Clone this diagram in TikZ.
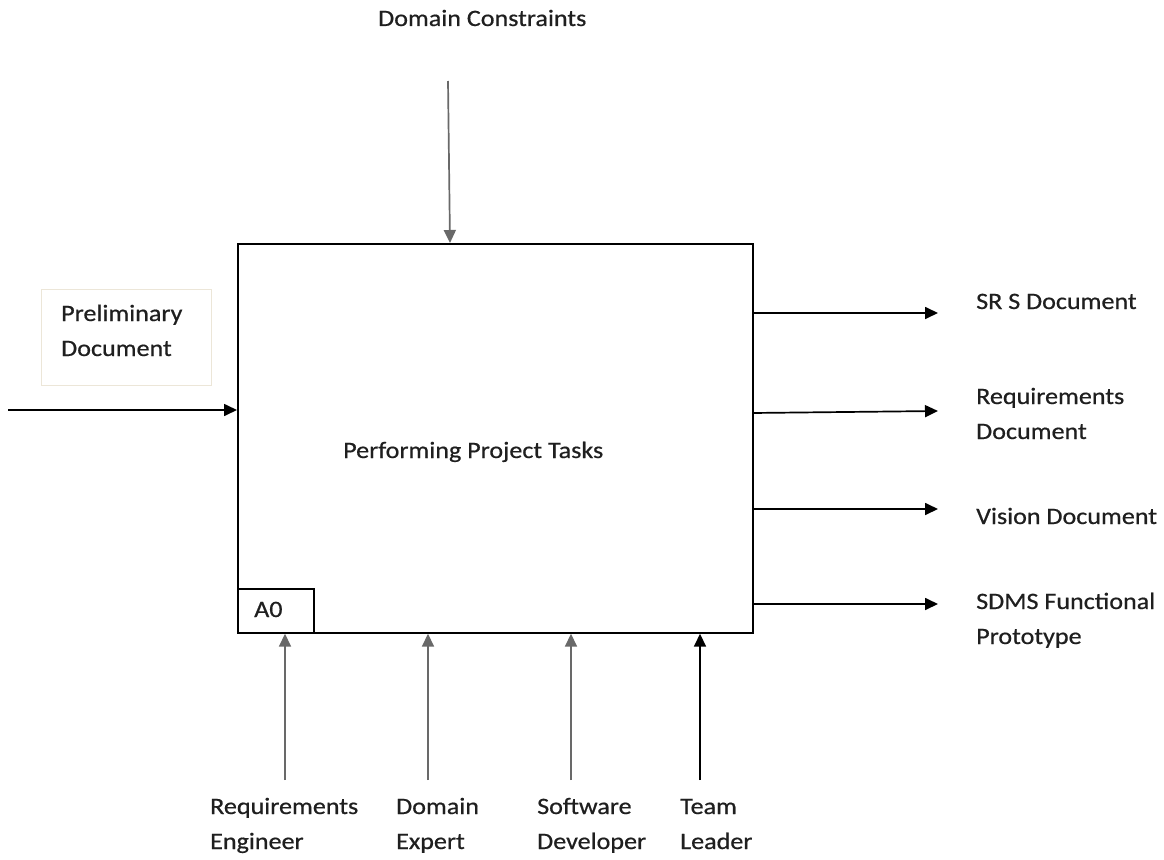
\documentclass[tikz,border=0pt]{standalone}
\usepackage{fontspec}
\setmainfont{Carlito}[FakeStretch=1.11,FakeBold=0.6]
\usetikzlibrary{arrows.meta}
\definecolor{linegray}{RGB}{105,105,105}
\definecolor{notebox}{RGB}{236,230,216}
\begin{document}
\begin{tikzpicture}[x=1pt,y=-1pt,
  lbl/.style={font=\fontsize{23.5}{35}\selectfont, text=black!88, inner sep=0pt, anchor=base west},
  flow/.style={line width=1.7pt, -{Triangle[length=13pt,width=12pt]}},
  grayflow/.style={flow, draw=linegray}]
\useasboundingbox (0,0) rectangle (1164,859);
\fill[white] (0,0) rectangle (1164,859);

% activity box
\node[draw, line width=1.7pt, minimum width=515pt, minimum height=389pt, inner sep=0pt, anchor=north west] (act) at (237,243) {};
\node[lbl] (title) at (343,458) {Performing Project Tasks};
\node[draw, line width=1.7pt, minimum width=76pt, minimum height=44pt, inner sep=0pt, anchor=south west] (num) at (act.south west) {};
\node[lbl] (numlbl) at (254,617) {A0};

% control
\node[lbl] (ctrl) at (378,26) {Domain Constraints};
\coordinate (ctop) at (448,81);
\draw[grayflow] (ctop) -- (act.north -| 450,0);

% input
\node[draw=notebox, line width=1pt, minimum width=170pt, minimum height=96pt, inner sep=0pt, anchor=north west] (pbox) at (41,289) {};
\node[lbl] (p1) at (61,321) {Preliminary};
\node[lbl] (p2) at (61,356) {Document};
\coordinate (inA) at (8,410);
\draw[flow] (inA) -- (inA -| act.west);

% outputs
\coordinate (o1) at (938,313);
\coordinate (o2) at (938,411);
\coordinate (o3) at (938,509);
\coordinate (o4) at (938,604);
\draw[flow] (o1 -| act.east) -- (o1);
\draw[flow] (752,413) -- (o2);
\draw[flow] (o3 -| act.east) -- (o3);
\draw[flow] (o4 -| act.east) -- (o4);
\node[lbl] (l1) at (976,309) {SR S Document};
\node[lbl] (l2a) at (976,404) {Requirements};
\node[lbl] (l2b) at (976,439) {Document};
\node[lbl] (l3) at (976,524) {Vision Document};
\node[lbl] (l4a) at (976,609) {SDMS Functional};
\node[lbl] (l4b) at (976,644) {Prototype};

% mechanisms
\coordinate (m1) at (285,780);
\coordinate (m2) at (428,780);
\coordinate (m3) at (571,780);
\coordinate (m4) at (700,780);
\draw[grayflow] (m1) -- (m1 |- act.south);
\draw[grayflow] (m2) -- (m2 |- act.south);
\draw[grayflow] (m3) -- (m3 |- act.south);
\draw[flow] (m4) -- (m4 |- act.south);
\node[lbl] (b1a) at (210,814) {Requirements};
\node[lbl] (b1b) at (210,849) {Engineer};
\node[lbl] (b2a) at (396,814) {Domain};
\node[lbl] (b2b) at (396,849) {Expert};
\node[lbl] (b3a) at (537,814) {Software};
\node[lbl] (b3b) at (537,849) {Developer};
\node[lbl] (b4a) at (680,814) {Team};
\node[lbl] (b4b) at (680,849) {Leader};
\end{tikzpicture}
\end{document}
